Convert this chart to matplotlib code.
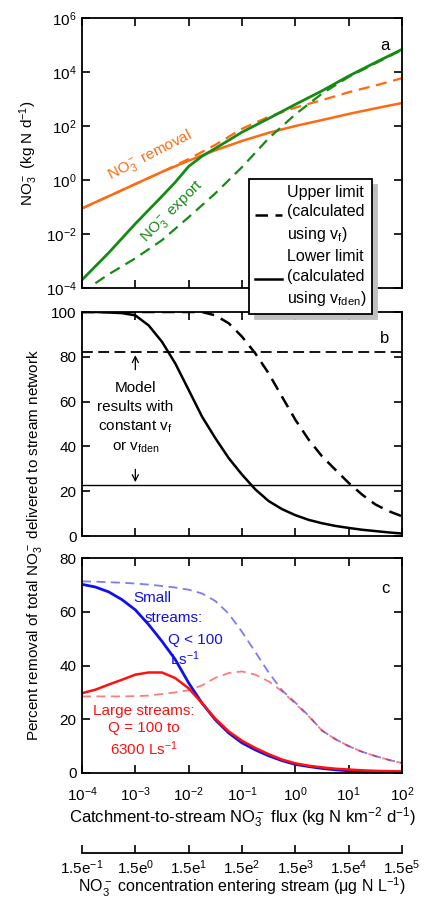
import matplotlib.pyplot as plt
from matplotlib.ticker import FixedLocator, NullFormatter

plt.rcParams["font.family"] = ["Liberation Sans", "DejaVu Sans"]
plt.rcParams["mathtext.fontset"] = "custom"
plt.rcParams["mathtext.rm"] = "Liberation Sans"
plt.rcParams["mathtext.it"] = "Liberation Sans:italic"
plt.rcParams["mathtext.default"] = "regular"
plt.rcParams["font.size"] = 11

# catchment-to-stream flux (kg N km-2 d-1), half-decade and quarter-decade grids
flux = [1e-4, 3.16e-4, 1e-3, 3.16e-3, 1e-2, 3.16e-2, 1e-1, 3.16e-1, 1, 3.16, 10, 31.6, 100]
flux_q = [1e-4, 1.78e-4, 3.16e-4, 5.62e-4, 1e-3, 1.78e-3, 3.16e-3, 5.62e-3,
          1e-2, 1.78e-2, 3.16e-2, 5.62e-2, 0.1, 0.178, 0.316, 0.562,
          1, 1.78, 3.16, 5.62, 10, 17.8, 31.6, 56.2, 100]

# panel a: NO3- export and removal (kg N d-1)
flux_export_lower = [1e-4, 3.16e-4, 1e-3, 3.16e-3, 5.62e-3, 1e-2, 1.78e-2, 3.16e-2,
                     1e-1, 3.16e-1, 1, 3.16, 10, 31.6, 100]
export_lower = [2.0e-4, 2.0e-3, 2.4e-2, 0.25, 0.83, 3.2, 7.6, 14.8,
                59, 190, 630, 2000, 7080, 22400, 69000]
flux_export_upper = [1.78e-4, 3.16e-4, 1e-3, 3.16e-3, 1e-2, 3.16e-2, 1e-1, 3.16e-1, 1, 3.16, 10, 31.6, 100]
export_upper = [1.5e-4, 3.2e-4, 1.26e-3, 5.9e-3, 4.2e-2, 0.32, 3.0, 35, 270, 1580, 6600, 20900, 66000]
removal_lower = [0.089, 0.25, 0.71, 2.0, 5.2, 12.6, 28, 56, 100, 166, 280, 450, 710]
removal_upper = [0.089, 0.25, 0.71, 2.0, 6.0, 20, 79, 220, 480, 910, 1780, 3160, 5890]

# panel b: percent of total NO3- delivered to stream network
delivered_lower = [100, 100, 99.8, 99.5, 98.5, 94, 86.7, 77, 65.2, 53.3, 43.7, 34.8, 27.4,
                   20.8, 15.6, 12, 9.3, 7.2, 5.7, 4.5, 3.6, 2.8, 2.2, 1.6, 1.1]
delivered_upper = [100, 100, 100, 100, 100, 100, 100, 100, 100, 100, 98.5, 95, 89,
                   81.5, 72.6, 62.2, 51.9, 43, 35.6, 29.6, 23.7, 18.5, 14.1, 11.1, 8.8]
const_upper = 82.0
const_lower = 22.8

# panel c: percent removal of total NO3-
small_lower = [70.2, 69.2, 67.4, 64.5, 60.7, 55.2, 49, 42.2, 33.5, 26, 19.8, 14.9, 11.2,
               8.6, 6.4, 4.6, 3.2, 2.4, 1.7, 1.2, 0.8, 0.6, 0.5, 0.4, 0.3]
small_upper = [71.3, 71.2, 71, 70.8, 70.5, 70.1, 69.6, 69, 68.2, 66.8, 64, 59.3, 52.5,
               45, 37.4, 30.8, 26.2, 21.3, 15.8, 12.6, 10, 7.9, 6.3, 4.9, 3.7]
large_lower = [29.7, 31, 32.9, 34.7, 36.6, 37.4, 37.4, 35.3, 31.5, 26, 20.2, 15.5, 12,
               9.3, 7, 5, 3.6, 2.7, 2.1, 1.6, 1.3, 1.0, 0.8, 0.7, 0.6]
large_upper = [28.5, 28.5, 28.5, 28.5, 28.6, 28.8, 29.4, 30, 30.8, 32.6, 35.4, 37.2, 37.8,
               36.6, 34.1, 30.4, 25.8, 21.1, 15.8, 12.6, 10, 7.9, 6.3, 4.9, 3.7]

decades = [1e-4, 1e-3, 1e-2, 1e-1, 1, 10, 100]
decade_labels = [r"10$^{-4}$", r"10$^{-3}$", r"10$^{-2}$", r"10$^{-1}$",
                 r"10$^{0}$", r"10$^{1}$", r"10$^{2}$"]
conc_exponents = ["-1", "0", "1", "2", "3", "4", "5"]

green = "#158a15"
orange = "#ff6a10"
blue = "#1010ee"
red = "#ff1010"

W, H = 425, 901
fig = plt.figure(figsize=(W / 100, H / 100), dpi=100)


def box(x0, y0, x1, y1):
    return [x0 / W, 1 - y1 / H, (x1 - x0) / W, (y1 - y0) / H]


ax_a = fig.add_axes(box(82, 18, 402, 288))
ax_b = fig.add_axes(box(82, 312, 402, 536))
ax_c = fig.add_axes(box(82, 558, 402, 773))

for ax in (ax_a, ax_b, ax_c):
    ax.set_xscale("log")
    ax.set_xlim(1e-4, 1e2)
    ax.xaxis.set_major_locator(FixedLocator(decades))
    ax.xaxis.set_minor_locator(FixedLocator([]))
    ax.tick_params(which="both", direction="in", top=True, right=True,
                   length=6, width=1.2, labelsize=11, pad=4)
    for s in ax.spines.values():
        s.set_linewidth(1.3)

# ---- panel a
ax_a.plot(flux, removal_upper, color=orange, lw=1.6, ls=(0, (5, 3)))
ax_a.plot(flux, removal_lower, color=orange, lw=1.8)
ax_a.plot(flux_export_upper, export_upper, color=green, lw=1.6, ls=(0, (5, 3)))
ax_a.plot(flux_export_lower, export_lower, color=green, lw=2.0)
ax_a.set_yscale("log")
ax_a.set_ylim(1e-4, 1e6)
ax_a.yaxis.set_major_locator(FixedLocator([1e-4, 1e-2, 1, 1e2, 1e4, 1e6]))
ax_a.yaxis.set_minor_locator(FixedLocator([]))
ax_a.set_yticklabels([r"10$^{-4}$", r"10$^{-2}$", r"10$^{0}$", r"10$^{2}$", r"10$^{4}$", r"10$^{6}$"])
ax_a.xaxis.set_major_formatter(NullFormatter())
ax_a.set_ylabel(r"NO$_3^-$ (kg N d$^{-1}$)", fontsize=11, labelpad=4)
ax_a.text(1.9e-3, 8, r"NO$_3^-$ removal", color=orange, rotation=27,
          ha="center", va="center", fontsize=11)
ax_a.text(5e-3, 0.065, r"NO$_3^-$ export", color=green, rotation=45,
          ha="center", va="center", fontsize=11)
ax_a.text(0.96, 0.9, "a", transform=ax_a.transAxes, ha="right", va="center", fontsize=12)

# ---- panel b
l_up, = ax_b.plot(flux_q, delivered_upper, color="black", lw=1.8, ls=(0, (5, 3)))
l_lo, = ax_b.plot(flux_q, delivered_lower, color="black", lw=1.8)
ax_b.axhline(const_upper, color="black", lw=1.3, ls=(0, (6, 3)))
ax_b.axhline(const_lower, color="black", lw=1.0)
ax_b.set_ylim(0, 100)
ax_b.set_yticks([0, 20, 40, 60, 80, 100])
ax_b.xaxis.set_major_formatter(NullFormatter())
ax_b.text(1e-3, 52.7, "Model\nresults with\nconstant $v_f$\nor $v_{fden}$",
          ha="center", va="center", fontsize=11, linespacing=1.4)
ax_b.annotate("", xy=(1e-3, const_upper), xytext=(1e-3, 73),
              arrowprops=dict(arrowstyle="->", lw=0.9, color="black"))
ax_b.annotate("", xy=(1e-3, const_lower), xytext=(1e-3, 31),
              arrowprops=dict(arrowstyle="->", lw=0.9, color="black"))
ax_b.text(0.96, 0.88, "b", transform=ax_b.transAxes, ha="right", va="center", fontsize=12)

# ---- panel c
ax_c.plot(flux_q, small_upper, color=blue, lw=1.3, ls=(0, (5, 3)), alpha=0.55)
ax_c.plot(flux_q, large_upper, color=red, lw=1.3, ls=(0, (5, 3)), alpha=0.55)
ax_c.plot(flux_q, small_lower, color=blue, lw=2.0)
ax_c.plot(flux_q, large_lower, color=red, lw=1.8)
ax_c.set_ylim(0, 80)
ax_c.set_yticks([0, 20, 40, 60, 80])
ax_c.set_xticklabels(decade_labels)
ax_c.tick_params(axis="x", pad=9)
ax_c.set_xlabel(r"Catchment-to-stream NO$_3^-$ flux (kg N km$^{-2}$ d$^{-1}$)",
                fontsize=12, labelpad=1)
ax_c.text(2.1e-3, 65.3, "Small", color=blue, ha="center", va="center", fontsize=11)
ax_c.text(5.2e-3, 57.7, "streams:", color=blue, ha="center", va="center", fontsize=11)
ax_c.text(1.35e-2, 49.5, "Q < 100", color=blue, ha="center", va="center", fontsize=11)
ax_c.text(8.5e-3, 42.6, "Ls$^{-1}$", color=blue, ha="center", va="center", fontsize=11)
ax_c.text(1.45e-3, 15.6, "Large streams:\nQ = 100 to\n6300 Ls$^{-1}$", color=red,
          ha="center", va="center", fontsize=11, linespacing=1.25)
ax_c.text(0.96, 0.86, "c", transform=ax_c.transAxes, ha="right", va="center", fontsize=12)

# shared y label for panels b and c
fig.text(35 / W, 1 - 545 / H, r"Percent removal of total NO$_3^-$ delivered to stream network",
         rotation=90, ha="center", va="center", fontsize=11)

# ---- concentration axis
ax_d = fig.add_axes(box(82, 852, 402, 853))
ax_d.set_xscale("log")
ax_d.set_xlim(1e-4, 1e2)
ax_d.set_yticks([])
for side in ("top", "left", "right"):
    ax_d.spines[side].set_visible(False)
ax_d.spines["bottom"].set_linewidth(1.3)
ax_d.xaxis.set_major_locator(FixedLocator(decades))
ax_d.xaxis.set_minor_locator(FixedLocator([]))
ax_d.set_xticklabels(["1.5e$^{%s}$" % e for e in conc_exponents])
ax_d.tick_params(which="both", direction="in", length=6, width=1.2, labelsize=11, pad=4)
ax_d.set_xlabel(r"NO$_3^-$ concentration entering stream ($\mu$g N L$^{-1}$)",
                fontsize=11.5, labelpad=-1)
ax_d.patch.set_visible(False)

# legend (overlaps panels a and b)
leg = fig.legend([l_up, l_lo],
                 ["Upper limit\n(calculated\nusing $v_f$)", "Lower limit\n(calculated\nusing $v_{fden}$)"],
                 loc="upper left", bbox_to_anchor=(249 / W, 1 - 179 / H),
                 frameon=True, fancybox=False,
                 shadow={"color": "0.75", "alpha": 1, "ox": 4, "oy": -4},
                 edgecolor="black", framealpha=1, fontsize=11.5, handlelength=1.7,
                 handletextpad=0.3, borderpad=0.35, labelspacing=0.3, borderaxespad=0)
leg.get_frame().set_linewidth(1.3)
for t in leg.get_texts():
    t.set_linespacing(1.4)

fig.savefig("out.png", dpi=100)
